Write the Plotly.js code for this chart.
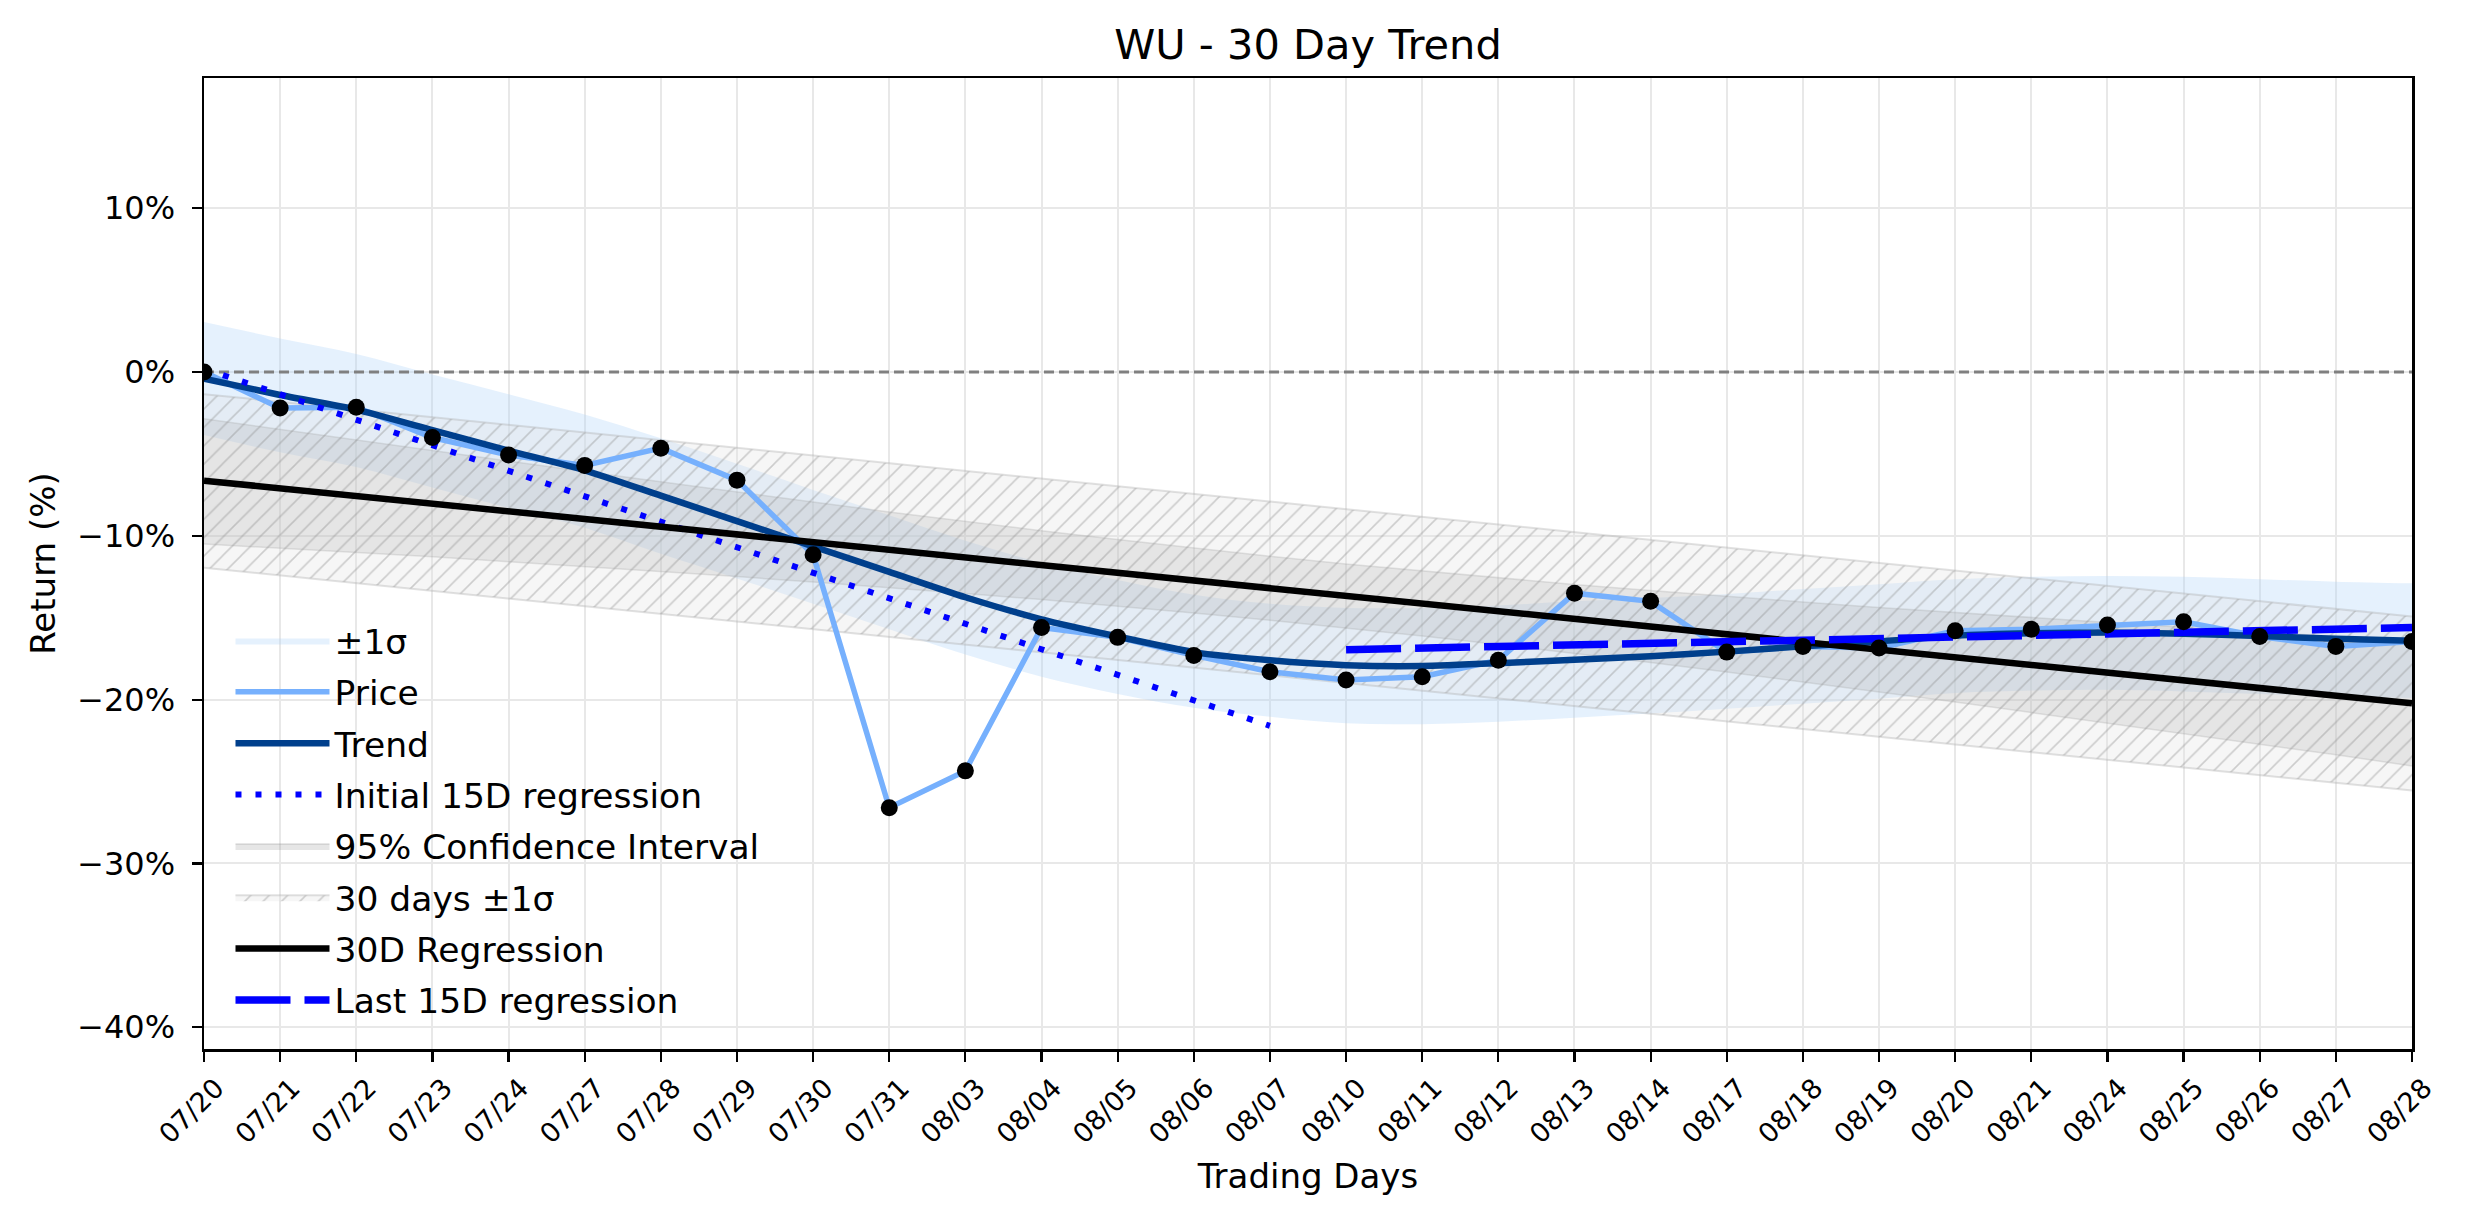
<!DOCTYPE html>
<html>
<head>
<meta charset="utf-8">
<script src="https://cdn.plot.ly/plotly-3.0.1.min.js"></script>
<style>
  html, body { margin: 0; padding: 0; background: #fff; }
  #chart { width: 2474px; height: 1224px; }
</style>
</head>
<body>
<div id="chart"></div>
<script>
// ---- DATA
const dates = ["07/20", "07/21", "07/22", "07/23", "07/24", "07/27", "07/28", "07/29", "07/30", "07/31",
  "08/03", "08/04", "08/05", "08/06", "08/07", "08/10", "08/11", "08/12", "08/13", "08/14",
  "08/17", "08/18", "08/19", "08/20", "08/21", "08/24", "08/25", "08/26", "08/27", "08/28"];

// daily return (%)
const price = [0.0, -2.2, -2.15, -4.0, -5.07, -5.7, -4.65, -6.6, -11.15, -26.6,
  -24.35, -15.6, -16.2, -17.3, -18.3, -18.8, -18.6, -17.6, -13.5, -14.0,
  -17.1, -16.75, -16.85, -15.8, -15.7, -15.45, -15.25, -16.15, -16.75, -16.45];

// smoothed trend
const trend = [-0.4, -1.4, -2.3, -3.55, -4.8, -6.0, -7.55, -9.1, -10.65, -12.2,
  -13.75, -15.1, -16.15, -17.1, -17.6, -17.9, -17.95, -17.78, -17.56, -17.35,
  -17.07, -16.75, -16.45, -16.1, -15.95, -15.9, -15.98, -16.12, -16.28, -16.4];

// +-1 sigma around trend
const sigmaUpper = [3.05, 2.05, 1.1, -0.15, -1.35, -2.6, -4.05, -5.6, -7.2, -8.75,
  -10.3, -11.65, -12.7, -13.6, -14.15, -14.4, -14.4, -14.25, -14.0, -13.8,
  -13.55, -13.25, -12.95, -12.65, -12.5, -12.45, -12.5, -12.65, -12.8, -12.9];
const sigmaLower = [-3.85, -4.9, -5.8, -7.05, -8.3, -9.5, -11.1, -12.6, -14.15, -15.7,
  -17.25, -18.6, -19.65, -20.5, -21.05, -21.45, -21.5, -21.35, -21.1, -20.85,
  -20.55, -20.25, -19.95, -19.6, -19.45, -19.4, -19.5, -19.65, -19.8, -19.9];

// 95% confidence interval of the 30D regression
const ciUpper = [-2.85, -3.5, -4.15, -4.8, -5.45, -6.08, -6.7, -7.33, -7.94, -8.54,
  -9.12, -9.69, -10.23, -10.75, -11.25, -11.72, -12.15, -12.57, -12.97, -13.34,
  -13.7, -14.04, -14.37, -14.69, -14.99, -15.29, -15.58, -15.86, -16.15, -16.43];
const ciLower = [-10.5, -10.75, -11.0, -11.28, -11.58, -11.88, -12.17, -12.49, -12.82, -13.16,
  -13.52, -13.89, -14.29, -14.71, -15.15, -15.62, -16.11, -16.63, -17.17, -17.74,
  -18.32, -18.92, -19.53, -20.15, -20.79, -21.43, -22.06, -22.72, -23.37, -24.05];

// straight lines: [first day, last day]
const reg30 = [-6.63, -20.23];
const band30Upper = [-1.35, -14.93];
const band30Lower = [-11.95, -25.55];
const init15 = [0.2, -21.6];     // days 0..14
const last15 = [-16.95, -15.6];  // days 15..29
const zeroLine = [0, 0];

const yTicks = [-40, -30, -20, -10, 0, 10];
const yTickText = ["\u221240%", "\u221230%", "\u221220%", "\u221210%", "0%", "10%"];

// ---- TRACES
const ends = [dates[0], dates[dates.length - 1]];
const FONT = "DejaVu Sans, Liberation Sans, sans-serif";

// bands first so the lines stay on top, legend order comes from legendrank
const traces = [
  { x: dates, y: sigmaUpper, mode: "lines", showlegend: false, hoverinfo: "skip",
    legendgroup: "s", legendrank: 1, line: { width: 0, shape: "spline" } },
  { x: dates, y: sigmaLower, mode: "lines", name: "\u00b11\u03c3", fill: "tonexty",
    legendgroup: "s", legendrank: 1,
    fillcolor: "rgba(175,212,250,0.33)", line: { width: 0, shape: "spline" } },

  { x: dates, y: ciUpper, mode: "lines", showlegend: false, hoverinfo: "skip",
    legendgroup: "c", legendrank: 5, line: { width: 1.5, color: "rgba(128,128,128,0.25)" } },
  { x: dates, y: ciLower, mode: "lines", name: "95% Confidence Interval", fill: "tonexty",
    legendgroup: "c", legendrank: 5,
    fillcolor: "rgba(128,128,128,0.2)", line: { width: 1.5, color: "rgba(128,128,128,0.25)" } },

  { x: ends, y: band30Upper, mode: "lines", showlegend: false, hoverinfo: "skip",
    legendgroup: "h", legendrank: 6, line: { width: 2, color: "rgba(170,170,170,0.35)" } },
  { x: ends, y: band30Lower, mode: "lines", name: "30 days \u00b11\u03c3", fill: "tonexty",
    legendgroup: "h", legendrank: 6,
    fillcolor: "rgba(225,225,225,0.3)",
    fillpattern: { shape: "/", size: 13, solidity: 0.12,
      fgcolor: "rgba(140,140,140,0.4)", bgcolor: "rgba(225,225,225,0.3)" },
    line: { width: 2, color: "rgba(170,170,170,0.35)" } },

  { x: ends, y: zeroLine, mode: "lines", showlegend: false, hoverinfo: "skip",
    legendgroup: "z", legendrank: 20, line: { color: "#808080", width: 2.8, dash: "10px,5px" } },

  { x: dates, y: price, mode: "lines", name: "Price", legendgroup: "p", legendrank: 2,
    line: { color: "#76b0fd", width: 5.5 } },
  { x: dates, y: trend, mode: "lines", name: "Trend", legendgroup: "t", legendrank: 3,
    line: { color: "#003f8c", width: 6.5, shape: "spline", smoothing: 0.6 } },
  { x: [dates[0], dates[14]], y: init15, mode: "lines", legendgroup: "i", legendrank: 4,
    name: "Initial 15D regression", line: { color: "#0000ff", width: 6, dash: "6px,14px" } },

  { x: ends, y: reg30, mode: "lines", name: "30D Regression", legendgroup: "r", legendrank: 7,
    line: { color: "#000000", width: 6.5 } },
  { x: [dates[15], dates[29]], y: last15, mode: "lines", name: "Last 15D regression",
    legendgroup: "l", legendrank: 8,
    line: { color: "#0000ff", width: 7.5, dash: "55px,14px" } },

  { x: dates, y: price, mode: "markers", showlegend: false, legendgroup: "m", legendrank: 21,
    marker: { color: "#000000", size: 17 } }
];

const layout = {
  width: 2474,
  height: 1224,
  paper_bgcolor: "#ffffff",
  plot_bgcolor: "#ffffff",
  font: { family: FONT, color: "#000000", size: 34 },
  margin: { l: 204, r: 62, t: 78, b: 175 },
  showlegend: true,
  title: {
    text: "WU - 30 Day Trend",
    font: { family: FONT, size: 41.5, color: "#000000" },
    x: 0.5, xref: "paper", xanchor: "center",
    y: 1 - 44 / 1224, yref: "container", yanchor: "middle"
  },
  xaxis: {
    type: "category",
    categoryorder: "array",
    categoryarray: dates,
    range: [0, dates.length - 1],
    tickmode: "array",
    tickvals: dates,
    ticktext: dates,
    tickangle: -45,
    tickfont: { family: FONT, size: 27 },
    ticklabelshift: 12,
    ticks: "outside", ticklen: 10, tickwidth: 2.2, tickcolor: "#000",
    showline: true, linecolor: "#000", linewidth: 2.5, mirror: true,
    showgrid: true, gridcolor: "#e8e8e8", gridwidth: 2,
    zeroline: false,
    title: { text: "Trading Days", font: { family: FONT, size: 34 }, standoff: 16 }
  },
  yaxis: {
    range: [-41.33, 17.95],
    tickmode: "array",
    tickvals: yTicks,
    ticktext: yTickText,
    tickfont: { family: FONT, size: 32 },
    ticklabelstandoff: 10,
    ticks: "outside", ticklen: 10, tickwidth: 2.2, tickcolor: "#000",
    showline: true, linecolor: "#000", linewidth: 2.5, mirror: true,
    showgrid: true, gridcolor: "#e8e8e8", gridwidth: 2,
    zeroline: false,
    title: { text: "Return (%)", font: { family: FONT, size: 34 }, standoff: 12 }
  },
  legend: {
    x: 0.012, xanchor: "left",
    y: 0.02, yanchor: "bottom",
    bgcolor: "rgba(255,255,255,0)",
    borderwidth: 0,
    font: { family: FONT, size: 34.5 },
    traceorder: "grouped",
    tracegroupgap: 3.5,
    itemwidth: 94
  }
};

Plotly.newPlot("chart", traces, layout, { displayModeBar: false, staticPlot: true });
</script>
</body>
</html>
